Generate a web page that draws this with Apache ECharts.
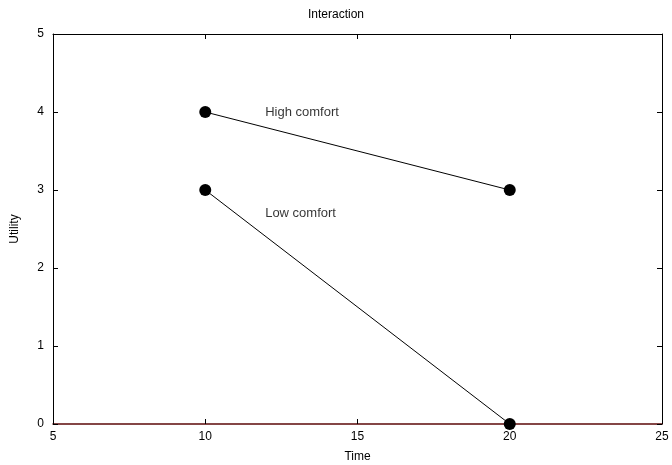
<!DOCTYPE html>
<html><head><meta charset="utf-8">
<script src="https://cdn.jsdelivr.net/npm/echarts@6/dist/echarts.min.js"></script>
<style>html,body{margin:0;padding:0;background:#fff}#c{width:672px;height:465px}</style>
</head><body><div id="c"></div>
<script>
const titleText = "Interaction";
const xName = "Time";
const yName = "Utility";
const highTimes = [10, 20];
const highUtility = [4, 3];
const lowTimes = [10, 20];
const lowUtility = [3, 0];
const annotations = [["High comfort", 12, 4], ["Low comfort", 12, 2.7]];
const xMin = 5, xMax = 25, xStep = 5;
const yMin = 0, yMax = 5, yStep = 1;

const font = "Liberation Sans, Arial, sans-serif";
const chart = echarts.init(document.getElementById('c'));
const pairs = (xs, ys) => xs.map((x, i) => [x, ys[i]]);
const lineSeries = (name, xs, ys) => ({
  name, type: 'line', data: pairs(xs, ys), symbol: 'circle', symbolSize: 12,
  itemStyle: {color: '#000'}, lineStyle: {color: '#000', width: 1}, animation: false, z: 5
});
chart.setOption({
  animation: false,
  title: {text: titleText, left: 'center', top: 4, textStyle: {fontFamily: font, fontSize: 12, fontWeight: 'normal', color: '#000'}},
  grid: {left: 53, right: 10, top: 34, bottom: 41, containLabel: false, outerBoundsMode: 'none'},
  xAxis: [
    {type: 'value', min: xMin, max: xMax, interval: xStep, name: xName, nameLocation: 'middle', nameGap: 27,
     nameTextStyle: {fontFamily: font, fontSize: 12, color: '#000'},
     axisLine: {onZero: false, lineStyle: {color: '#5c0a0a', width: 1.5}},
     axisTick: {inside: true, length: 5, lineStyle: {color: '#000'}},
     axisLabel: {fontFamily: font, fontSize: 12, color: '#000', margin: 7},
     splitLine: {show: false}},
    {type: 'value', position: 'top', min: xMin, max: xMax, interval: xStep,
     axisLine: {onZero: false, lineStyle: {color: '#000'}},
     axisTick: {inside: true, length: 5, lineStyle: {color: '#000'}},
     axisLabel: {show: false}, splitLine: {show: false}}
  ],
  yAxis: [
    {type: 'value', min: yMin, max: yMax, interval: yStep, name: yName, nameLocation: 'middle', nameGap: 32,
     nameTextStyle: {fontFamily: font, fontSize: 12, color: '#000'},
     axisLine: {show: true, onZero: false, lineStyle: {color: '#000'}},
     axisTick: {show: true, inside: true, length: 5, lineStyle: {color: '#000'}},
     axisLabel: {fontFamily: font, fontSize: 12, color: '#000', margin: 9},
     splitLine: {show: false}},
    {type: 'value', position: 'right', min: yMin, max: yMax, interval: yStep,
     axisLine: {show: true, onZero: false, lineStyle: {color: '#000'}},
     axisTick: {show: true, inside: true, length: 5, lineStyle: {color: '#000'}},
     axisLabel: {show: false}, splitLine: {show: false}}
  ],
  series: [
    lineSeries('High comfort', highTimes, highUtility),
    lineSeries('Low comfort', lowTimes, lowUtility),
    {type: 'scatter', symbolSize: 0, silent: true,
     data: annotations.map(a => ({value: [a[1], a[2]], name: a[0]})),
     label: {show: true, position: 'right', distance: -1, formatter: p => p.name,
             fontFamily: font, fontSize: 13, color: '#000', textBorderWidth: 0}}
  ]
});
</script></body></html>
